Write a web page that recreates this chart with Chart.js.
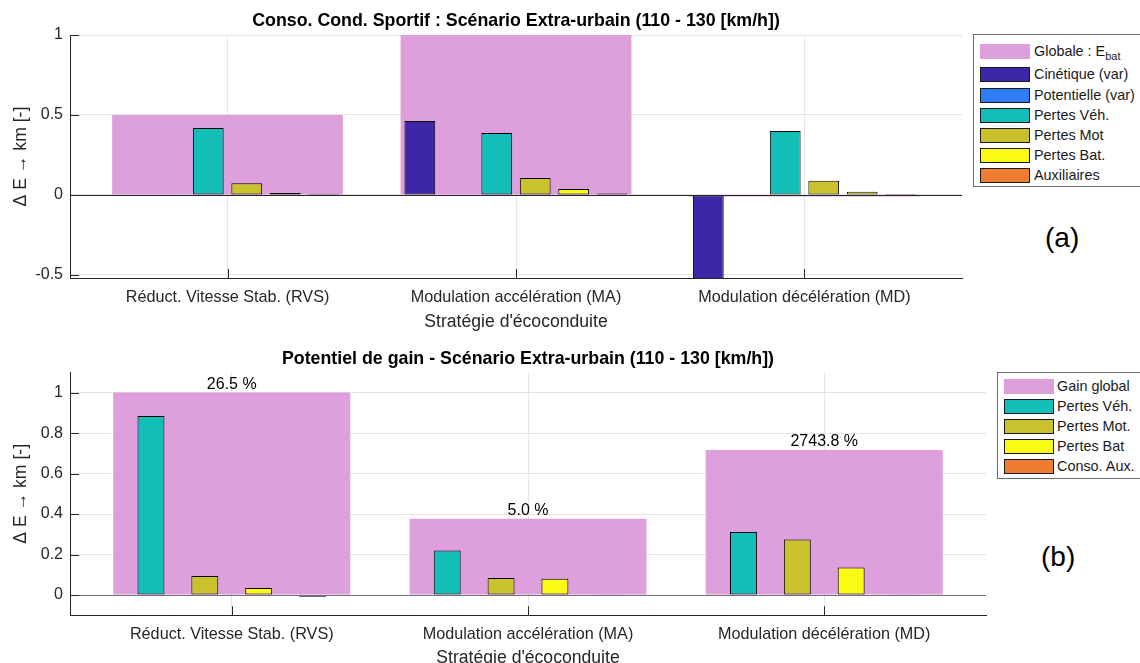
<!DOCTYPE html>
<html>
<head>
<meta charset="utf-8">
<script src="https://cdn.jsdelivr.net/npm/chart.js@4"></script>
<style>
  html, body { margin: 0; padding: 0; background: #fff; overflow: hidden; }
  body { width: 1140px; height: 663px; position: relative; font-family: "Liberation Sans", Arial, sans-serif; }
  canvas { position: absolute; left: 0; }
  .legend { position: absolute; background: #fff; border: 1px solid #6b6b6b; box-sizing: border-box; z-index: 2; }
  .sw { position: absolute; box-sizing: border-box; border: 1px solid #1a1a1a; }
  .lt { position: absolute; font-size: 14.4px; color: #1a1a1a; white-space: nowrap; line-height: 15px; }
  .lt sub { font-size: 11px; vertical-align: -4px; line-height: 0; }
  .tag { position: absolute; font-size: 28px; color: #000; z-index: 2; line-height: 28px; }
</style>
</head>
<body>
<canvas id="chartA" width="1000" height="340" style="top:0px"></canvas>
<canvas id="chartB" width="1020" height="340" style="top:340px"></canvas>
<div id="legendA" class="legend" style="left:973px; top:34px; width:168px; height:153px"></div>
<div id="legendB" class="legend" style="left:997px; top:372px; width:144px; height:107px"></div>
<div class="tag" style="left:1045px; top:224px">(a)</div>
<div class="tag" style="left:1041px; top:543px">(b)</div>
<script>
// categories
const strategies = ['Réduct. Vitesse Stab. (RVS)', 'Modulation accélération (MA)', 'Modulation décélération (MD)'];
const xPos = [1, 2, 3];

// (a) Conso. Cond. Sportif
const globaleEbat = [0.50, 1.00, -0.01];
const cinetique = [-0.002, 0.463, -0.53];
const potentielle = [0, 0, 0];
const pertesVeh = [0.419, 0.388, 0.400];
const pertesMot = [0.073, 0.106, 0.089];
const pertesBat = [0.012, 0.037, 0.019];
const auxiliaires = [0.006, 0.008, 0.006];
const ticksA = [-0.5, 0, 0.5, 1];

// (b) Potentiel de gain
const gainGlobal = [1.00, 0.377, 0.717];
const gainVeh = [0.885, 0.220, 0.311];
const gainMot = [0.094, 0.084, 0.275];
const gainBat = [0.035, 0.080, 0.136];
const gainAux = [-0.008, 0.002, 0.002];
const gainPct = [26.5, 5.0, 2743.8];
const ticksB = [0, 0.2, 0.4, 0.6, 0.8, 1];

const PINK = '#dda0dd';
const colCin = '#3e26a8', colPot = '#2f7cf6', colVeh = '#13beb8', colMot = '#c9c22d', colBat = '#f9fb15', colAux = '#ee7d31';

Chart.defaults.font.family = '"Liberation Sans", Arial, sans-serif';
Chart.defaults.color = '#262626';

const pts = arr => arr.map((v, i) => ({ x: xPos[i], y: v }));

function groupSet(label, data, color, cat, bar) {
    return {
        label: label, data: pts(data), backgroundColor: color,
        borderColor: '#000', borderWidth: 1, borderSkipped: false,
        categoryPercentage: cat, barPercentage: bar, order: 0
    };
}

function globalSet(label, data) {
    return {
        label: label, data: pts(data), backgroundColor: PINK, borderWidth: 0,
        grouped: false, categoryPercentage: 0.8, barPercentage: 1, order: 1
    };
}

// zero line + inward tick marks, drawn over the bars
const axisDecor = {
    id: 'axisDecor',
    afterDatasetsDraw(chart, args, opts) {
        const { ctx, chartArea, scales: { x, y } } = chart;
        ctx.save();
        ctx.lineWidth = 1;
        const y0 = Math.round(y.getPixelForValue(0)) + 0.5;
        ctx.strokeStyle = opts.zeroColor;
        ctx.beginPath();
        ctx.moveTo(chartArea.left, y0);
        ctx.lineTo(chartArea.right, y0);
        ctx.stroke();
        ctx.strokeStyle = '#262626';
        ctx.beginPath();
        x.ticks.forEach((t, i) => {
            const px = Math.round(x.getPixelForTick(i)) + 0.5;
            ctx.moveTo(px, chartArea.bottom);
            ctx.lineTo(px, chartArea.bottom - 9);
        });
        y.ticks.forEach((t, i) => {
            const py = Math.round(y.getPixelForTick(i)) + 0.5;
            ctx.moveTo(chartArea.left, py);
            ctx.lineTo(chartArea.left + 9, py);
        });
        ctx.stroke();
        ctx.restore();
    }
};

// percentage text above the global gain bars
const pctLabels = {
    id: 'pctLabels',
    afterDatasetsDraw(chart) {
        const meta = chart.getDatasetMeta(0);
        const { ctx } = chart;
        ctx.save();
        ctx.font = '16px "Liberation Sans", Arial, sans-serif';
        ctx.fillStyle = '#000';
        ctx.textAlign = 'center';
        ctx.textBaseline = 'alphabetic';
        meta.data.forEach((bar, i) => {
            ctx.fillText(gainPct[i].toFixed(1) + ' %', bar.x, bar.y - 3.5);
        });
        ctx.restore();
    }
};

function scalesFor(yMin, yMax, yTicks, xH, xTitlePad) {
    return {
        x: {
            type: 'linear', min: 0.454, max: 3.546, offset: false,
            afterBuildTicks: s => { s.ticks = xPos.map(v => ({ value: v })); },
            afterFit: s => { s.height = xH; },
            grid: { color: '#e5e5e5', drawTicks: false, offset: false },
            border: { color: '#262626' },
            ticks: {
                callback: (v, i) => strategies[i], font: { size: 16.2 }, padding: 10,
                maxRotation: 0, autoSkip: false
            },
            title: {
                display: true, text: "Stratégie d'écoconduite", font: { size: 17.6 },
                padding: { top: 0, bottom: xTitlePad }
            }
        },
        y: {
            min: yMin, max: yMax,
            afterBuildTicks: s => { s.ticks = yTicks.map(v => ({ value: v })); },
            afterFit: s => { s.width = 70; },
            grid: { color: '#e5e5e5', drawTicks: false },
            border: { color: '#262626' },
            ticks: { font: { size: 16 }, padding: 7, callback: v => String(v) },
            title: {
                display: true, text: 'Δ E → km [-]', font: { size: 17.6 },
                padding: { top: 11, bottom: 0 }
            }
        }
    };
}

new Chart(document.getElementById('chartA'), {
    type: 'bar',
    plugins: [axisDecor],
    data: {
        datasets: [
            globalSet('Globale : Ebat', globaleEbat),
            groupSet('Cinétique (var)', cinetique, colCin, 0.8, 0.8),
            groupSet('Potentielle (var)', potentielle, colPot, 0.8, 0.8),
            groupSet('Pertes Véh.', pertesVeh, colVeh, 0.8, 0.8),
            groupSet('Pertes Mot', pertesMot, colMot, 0.8, 0.8),
            groupSet('Pertes Bat.', pertesBat, colBat, 0.8, 0.8),
            groupSet('Auxiliaires', auxiliaires, colAux, 0.8, 0.8)
        ]
    },
    options: {
        responsive: false,
        animation: false,
        layout: { padding: { left: 0, right: 38, top: 0, bottom: 0 } },
        scales: scalesFor(-0.52, 1, ticksA, 62, 6.9),
        plugins: {
            legend: { display: false },
            tooltip: { enabled: false },
            axisDecor: { zeroColor: '#262626' },
            title: {
                display: true, fullSize: false, color: '#000',
                text: 'Conso. Cond. Sportif : Scénario Extra-urbain (110 - 130 [km/h])',
                font: { size: 17.8, weight: 'bold' },
                padding: { top: 10, bottom: 3.7 }
            }
        }
    }
});

new Chart(document.getElementById('chartB'), {
    type: 'bar',
    plugins: [axisDecor, pctLabels],
    data: {
        datasets: [
            globalSet('Gain global', gainGlobal),
            groupSet('Pertes Véh.', gainVeh, colVeh, 0.727, 0.5),
            groupSet('Pertes Mot.', gainMot, colMot, 0.727, 0.5),
            groupSet('Pertes Bat', gainBat, colBat, 0.727, 0.5),
            groupSet('Conso. Aux.', gainAux, colAux, 0.727, 0.5)
        ]
    },
    options: {
        responsive: false,
        animation: false,
        layout: { padding: { left: 0, right: 34, top: 0, bottom: 0 } },
        scales: scalesFor(-0.1, 1.1, ticksB, 64.7, 11.4),
        plugins: {
            legend: { display: false },
            tooltip: { enabled: false },
            axisDecor: { zeroColor: '#707070' },
            title: {
                display: true, fullSize: false, color: '#000',
                text: 'Potentiel de gain - Scénario Extra-urbain (110 - 130 [km/h])',
                font: { size: 17.8, weight: 'bold' },
                padding: { top: 8.4, bottom: 2.6 }
            }
        }
    }
});

// legends (html, for the subscript and the frame)
function buildLegend(el, items, left, rowTops, textLeft, swW, swH) {
    const box = el.getBoundingClientRect();
    items.forEach((it, i) => {
        const sw = document.createElement('div');
        sw.className = 'sw';
        sw.style.left = (left - box.left) + 'px';
        sw.style.top = (rowTops[i] - box.top) + 'px';
        sw.style.width = swW + 'px';
        sw.style.height = swH + 'px';
        sw.style.background = it.color;
        if (it.noBorder) sw.style.border = 'none';
        el.appendChild(sw);
        const t = document.createElement('div');
        t.className = 'lt';
        t.style.left = (textLeft - box.left) + 'px';
        t.style.top = (rowTops[i] - box.top) + 'px';
        t.innerHTML = it.html;
        el.appendChild(t);
    });
}

buildLegend(document.getElementById('legendA'), [
    { html: 'Globale : E<sub>bat</sub>', color: PINK, noBorder: true },
    { html: 'Cinétique (var)', color: colCin },
    { html: 'Potentielle (var)', color: colPot },
    { html: 'Pertes Véh.', color: colVeh },
    { html: 'Pertes Mot', color: colMot },
    { html: 'Pertes Bat.', color: colBat },
    { html: 'Auxiliaires', color: colAux }
], 979, [43, 66, 86.5, 106.7, 127, 147.2, 167.4], 1033, 50, 15);

buildLegend(document.getElementById('legendB'), [
    { html: 'Gain global', color: PINK, noBorder: true },
    { html: 'Pertes Véh.', color: colVeh },
    { html: 'Pertes Mot.', color: colMot },
    { html: 'Pertes Bat', color: colBat },
    { html: 'Conso. Aux.', color: colAux }
], 1003, [378, 397.5, 417.5, 437.7, 458], 1056, 49.5, 15.3);
</script>
</body>
</html>
